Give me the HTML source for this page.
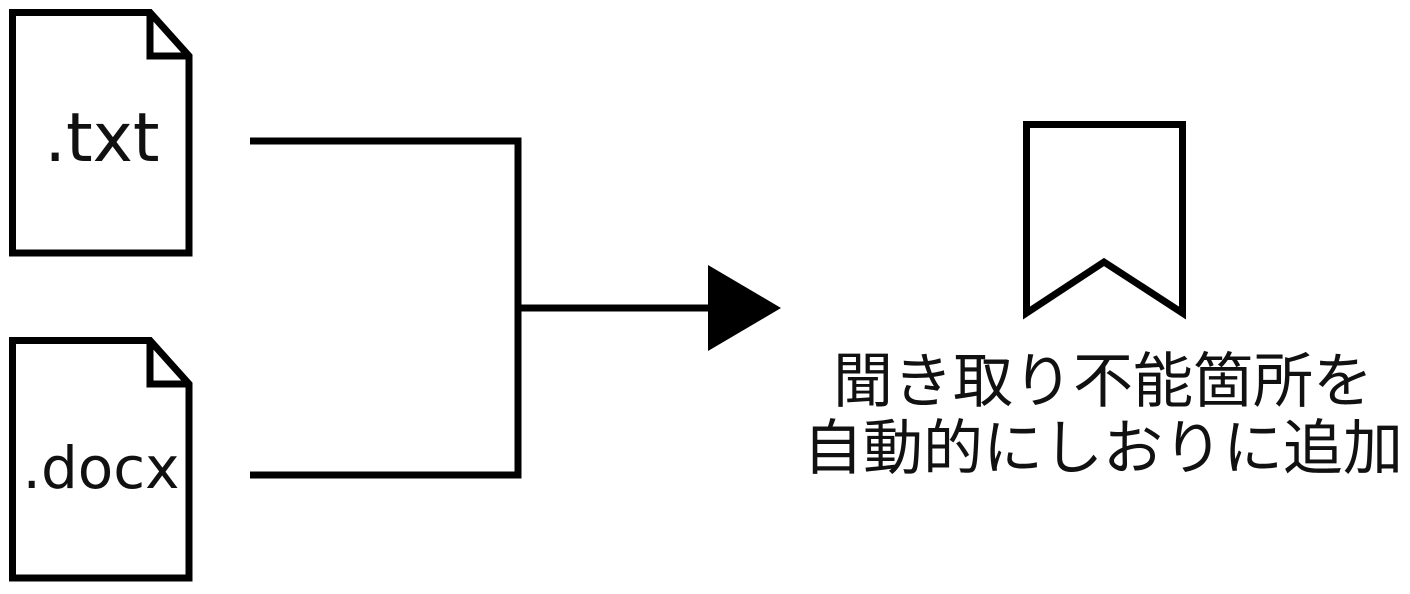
<!DOCTYPE html>
<html><head><meta charset="utf-8"><style>
html,body{margin:0;padding:0;background:#fff;width:1410px;height:594px;overflow:hidden}
</style></head><body>
<svg width="1410" height="594" viewBox="0 0 1410 594" xmlns="http://www.w3.org/2000/svg">
<g fill="none" stroke="#000" stroke-width="7" stroke-linejoin="miter">
<path d="M12.5 12.5 H150 L189 56 V253 H12.5 Z"/>
<path d="M150 12.5 V56 H189"/>
<path d="M12.5 340.5 H150 L189 384 V578 H12.5 Z"/>
<path d="M150 340.5 V384 H189"/>
<path d="M250 141 H518 V475 H250"/>
<path d="M518 308 H712"/>
<path d="M1026.5 124.5 H1182.5 V313 L1104 262 L1026.5 313 Z"/>
</g>
<polygon points="708,265 781,308 708,351" fill="#000"/>
<g font-family="'DejaVu Sans','Liberation Sans',sans-serif" fill="#111">
<text x="102" y="161" text-anchor="middle" font-size="68">.txt</text>
<text x="101" y="488" text-anchor="middle" font-size="58">.docx</text>
</g>
<g font-family="'Liberation Sans','Noto Sans CJK JP',sans-serif" font-size="60" fill="#111" text-anchor="middle">
<text x="1103" y="402">聞き取り不能箇所を</text>
<text x="1103" y="469">自動的にしおりに追加</text>
</g>
</svg>
</body></html>
